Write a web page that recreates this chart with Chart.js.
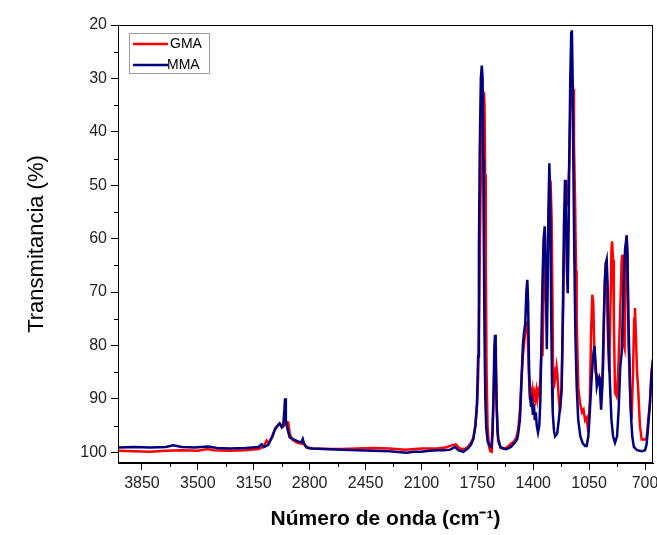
<!DOCTYPE html>
<html>
<head>
<meta charset="utf-8">
<script src="https://cdn.jsdelivr.net/npm/chart.js@4.4.0/dist/chart.umd.min.js"></script>
<style>
    body { margin: 0; background: #fff; }
    canvas { display: block; }
</style>
</head>
<body>
<canvas id="grafica" width="657" height="535"></canvas>
<script>
const gmaOnda = [
    4000, 3900, 3800, 3700, 3600, 3500, 3440, 3400, 3300, 3200,
    3120, 3090, 3069, 3055, 3035, 3015, 2995, 2988, 2978, 2965,
    2955, 2945, 2934, 2925, 2910, 2880, 2850, 2840, 2825, 2800,
    2700, 2600, 2500, 2400, 2300, 2200, 2100, 2000, 1950, 1900,
    1885, 1860, 1830, 1810, 1790, 1775, 1762, 1752, 1745, 1738,
    1730, 1722, 1714, 1709, 1705, 1701, 1697, 1692, 1686, 1678,
    1668, 1660, 1655, 1648, 1642, 1638, 1634, 1628, 1620, 1605,
    1580, 1560, 1540, 1520, 1505, 1493, 1483, 1475, 1465, 1455,
    1445, 1440, 1434, 1428, 1422, 1416, 1410, 1404, 1398, 1392,
    1386, 1380, 1374, 1368, 1362, 1355, 1347, 1342, 1336, 1330,
    1325, 1319, 1313, 1306, 1298, 1290, 1285, 1280, 1276, 1272,
    1262, 1254, 1248, 1240, 1232, 1222, 1212, 1204, 1195, 1185,
    1176, 1168, 1161, 1155, 1150, 1145, 1138, 1132, 1128, 1118,
    1107, 1095, 1085, 1075, 1065, 1055, 1045, 1038, 1030, 1024,
    1018, 1010, 1002, 992, 982, 970, 962, 955, 948, 940,
    933, 924, 916, 910, 906, 900, 895, 888, 878, 868,
    857, 846, 842, 838, 832, 828, 822, 815, 810, 803,
    794, 784, 775, 768, 763, 757, 750, 742, 732, 721,
    700, 690, 680, 669, 660, 650
];
const gmaTrans = [
    99.7, 99.8, 99.9, 99.7, 99.6, 99.7, 99.4, 99.6, 99.7, 99.6,
    99.4, 99.0, 97.8, 98.3, 97.0, 95.5, 94.8, 94.6, 95.0, 95.2,
    94.8, 94.3, 94.4, 96.5, 97.6, 98.2, 98.4, 98.2, 98.9, 99.3,
    99.4, 99.4, 99.3, 99.2, 99.3, 99.5, 99.3, 99.3, 99.1, 98.6,
    98.5, 99.3, 99.4, 99.0, 98.2, 97.3, 95, 91, 86, 72,
    52, 40, 34, 32.5, 35, 48, 66, 85, 95, 98.8,
    99.8, 99.9, 97, 90, 82, 80, 83, 92, 97.8, 99.2,
    99.3, 99.0, 98.4, 98.0, 97.2, 95.5, 92, 87, 82, 79,
    76, 75.5, 78, 85, 89, 88.5, 90, 88.5, 90.5, 89,
    90, 88.5, 90, 88.5, 89, 86, 80.1, 82, 72, 62,
    66, 72, 68, 58, 52, 50.8, 56, 70, 84, 88,
    86, 84, 85.7, 90, 92.4, 88, 72, 57, 54, 53,
    47, 37, 32, 30, 32, 42, 52.7, 66, 75, 88,
    90.7, 92.5, 92, 94, 93.5, 96.3, 90, 78, 70.5, 72,
    80, 85, 85.4, 87, 86.4, 88.2, 84, 72, 66, 67,
    78, 85, 72, 62, 60.5, 64, 75, 88.8, 89.5, 85,
    75.1, 64, 63, 68, 80, 80.5, 68, 59.3, 63, 80,
    88.6, 93.8, 85, 75, 73, 78, 85, 88.6, 95, 97.6,
    97.6, 97.3, 94, 90.7, 85, 82.6
];
const mmaOnda = [
    4000, 3900, 3800, 3700, 3655, 3600, 3520, 3436, 3380, 3300,
    3200, 3120, 3100, 3085, 3060, 3035, 3017, 2995, 2988, 2975,
    2965, 2958, 2954, 2949, 2940, 2925, 2900, 2870, 2852, 2843,
    2835, 2818, 2780, 2700, 2600, 2500, 2400, 2300, 2192, 2150,
    2100, 2050, 2000, 1960, 1920, 1890, 1870, 1838, 1810, 1790,
    1775, 1762, 1752, 1745, 1740, 1735, 1728, 1722, 1717, 1713,
    1709, 1705, 1700, 1694, 1685, 1672, 1662, 1655, 1648, 1643,
    1639, 1635, 1630, 1624, 1618, 1605, 1580, 1566, 1540, 1515,
    1500, 1493, 1483, 1475, 1465, 1458, 1450, 1443, 1437, 1432,
    1426, 1420, 1414, 1408, 1402, 1396, 1390, 1384, 1378, 1370,
    1362, 1355, 1348, 1342, 1335, 1328, 1322, 1315, 1310, 1305,
    1299, 1294, 1288, 1282, 1278, 1270, 1263, 1250, 1240, 1230,
    1222, 1215, 1208, 1201, 1195, 1189, 1184, 1179, 1174, 1168,
    1162, 1158, 1154, 1149, 1143, 1136, 1128, 1118, 1105, 1090,
    1075, 1065, 1055, 1045, 1034, 1025, 1017, 1010, 1002, 995,
    988, 982, 975, 968, 960, 952, 945, 940, 935, 928,
    919, 910, 900, 888, 875, 865, 855, 846, 835, 825,
    815, 810, 804, 798, 790, 780, 770, 750, 720, 700,
    690, 680, 669, 660, 650
];
const mmaTrans = [
    99.1, 99.0, 99.1, 99.0, 98.7, 99.0, 99.1, 98.9, 99.2, 99.3,
    99.2, 99.0, 98.5, 99.0, 98.6, 97.2, 95.7, 94.8, 94.6, 95.3,
    94.8, 92, 89.9, 94.0, 95.5, 97.2, 97.6, 98.0, 98.1, 97.5,
    98.4, 99.1, 99.3, 99.4, 99.5, 99.6, 99.7, 99.8, 100.1, 99.9,
    99.9, 99.7, 99.6, 99.6, 99.5, 99.0, 99.6, 99.9, 99.3, 98.6,
    97.5, 95.0, 91.0, 82, 62, 44, 30, 27.6, 30, 45,
    62, 78, 90, 95.5, 98.0, 98.8, 99.0, 96, 88, 80,
    78, 81, 90, 96, 97.6, 99.0, 99.4, 99.4, 99.0, 98.2,
    97.5, 96.3, 93.8, 88, 80, 77.6, 76, 70, 67.7, 72,
    84, 89.5, 91.5, 90.5, 93, 91, 94, 92.5, 95, 96.3,
    95, 90, 78, 68, 60, 57.7, 65, 80.7, 70, 55,
    45.9, 52, 72, 88, 92.5, 96, 97, 96.5, 94, 91,
    88, 75, 58, 49, 55, 66, 70.2, 60, 45, 30,
    21.5, 21, 28, 45, 62.6, 78, 87.6, 94, 97, 98.3,
    98.8, 98.8, 97, 92, 86, 82, 80.1, 83, 87.6, 86.5,
    86, 88, 92, 88, 78, 68, 64.5, 63.9, 68, 80,
    87.6, 94, 97, 98.2, 97, 92, 84, 81.3, 70, 62,
    59.5, 63, 75, 82, 92, 97, 99, 99.6, 99.8, 99.6,
    98.5, 95, 90.7, 86, 82.6
];

// Marcas de los ejes
const xTicks = [3850, 3500, 3150, 2800, 2450, 2100, 1750, 1400, 1050, 700];
const xMinor = [3675, 3325, 2975, 2625, 2275, 1925, 1575, 1225, 875];
const yTicks = [20, 30, 40, 50, 60, 70, 80, 90, 100];
const yMinor = [25, 35, 45, 55, 65, 75, 85, 95];

const fuente = '"Liberation Sans", Arial, sans-serif';

// Marco, marcas menores y leyenda dentro del área
const marco = {
    id: 'marco',
    afterDraw(chart) {
        const { ctx, chartArea: a, scales: { x, y } } = chart;
        ctx.save();
        ctx.strokeStyle = '#000';
        ctx.lineWidth = 1;
        ctx.strokeRect(a.left + 0.5, a.top + 0.5, a.right - a.left - 1, a.bottom - a.top - 1);
        ctx.beginPath();
        xMinor.forEach(v => {
            const px = Math.round(x.getPixelForValue(v)) + 0.5;
            ctx.moveTo(px, a.bottom);
            ctx.lineTo(px, a.bottom + 4);
        });
        yMinor.forEach(v => {
            const py = Math.round(y.getPixelForValue(v)) + 0.5;
            ctx.moveTo(a.left, py);
            ctx.lineTo(a.left - 4, py);
        });
        ctx.stroke();

        // leyenda
        const lx = a.left + 11, ly = a.top + 8;
        ctx.strokeStyle = '#9a9a9a';
        ctx.strokeRect(lx + 0.5, ly + 0.5, 80, 40);
        ctx.font = '14px ' + fuente;
        ctx.textBaseline = 'middle';
        ctx.fillStyle = '#000';
        chart.data.datasets.forEach((ds, i) => {
            const yy = ly + 11 + i * 21;
            ctx.strokeStyle = ds.borderColor;
            ctx.lineWidth = 2.5;
            ctx.beginPath();
            ctx.moveTo(lx + 4, yy);
            ctx.lineTo(lx + 39, yy);
            ctx.stroke();
            ctx.fillText(ds.label, lx + 41 - i * 3, yy);
        });
        ctx.restore();
    }
};

const ctx = document.getElementById('grafica').getContext('2d');
new Chart(ctx, {
    type: 'line',
    data: {
        datasets: [
            {
                label: 'GMA',
                data: gmaOnda.map((w, i) => ({ x: w, y: gmaTrans[i] })),
                borderColor: '#ff0000',
                borderWidth: 2.5,
                pointRadius: 0,
                order: 2
            },
            {
                label: 'MMA',
                data: mmaOnda.map((w, i) => ({ x: w, y: mmaTrans[i] })),
                borderColor: '#000080',
                borderWidth: 2.5,
                pointRadius: 0,
                order: 1
            }
        ]
    },
    options: {
        responsive: false,
        animation: false,
        layout: { padding: { top: 25, right: 4, left: 0, bottom: 0 } },
        plugins: {
            legend: { display: false },
            tooltip: { enabled: false }
        },
        scales: {
            x: {
                type: 'linear',
                reverse: true,
                min: 650,
                max: 4000,
                afterBuildTicks: s => { s.ticks = xTicks.map(v => ({ value: v })); },
                afterFit: s => { s.height = 72; s.paddingLeft = 0; s.paddingRight = 0; },
                grid: { drawOnChartArea: false, tickLength: 7, color: '#000' },
                border: { color: '#000', width: 1 },
                ticks: {
                    autoSkip: false,
                    maxRotation: 0,
                    padding: 4,
                    color: '#222',
                    font: { family: fuente, size: 16 },
                    callback: v => String(v)
                },
                title: {
                    display: true,
                    text: 'Número de onda (cm⁻¹)',
                    color: '#000',
                    font: { family: fuente, size: 21, weight: 'bold' },
                    padding: { top: 0, bottom: 3 }
                }
            },
            y: {
                reverse: true,
                min: 20,
                max: 102,
                afterBuildTicks: s => { s.ticks = yTicks.map(v => ({ value: v })); },
                afterFit: s => { s.width = 118; s.paddingTop = 0; s.paddingBottom = 0; },
                grid: { drawOnChartArea: false, tickLength: 7, color: '#000' },
                border: { color: '#000', width: 1 },
                ticks: {
                    padding: 4,
                    color: '#222',
                    font: { family: fuente, size: 16 },
                    callback: v => String(v)
                },
                title: {
                    display: true,
                    text: 'Transmitancia (%)',
                    color: '#000',
                    font: { family: fuente, size: 22 },
                    padding: { top: 24, bottom: 0 }
                }
            }
        }
    },
    plugins: [marco]
});
</script>
</body>
</html>
